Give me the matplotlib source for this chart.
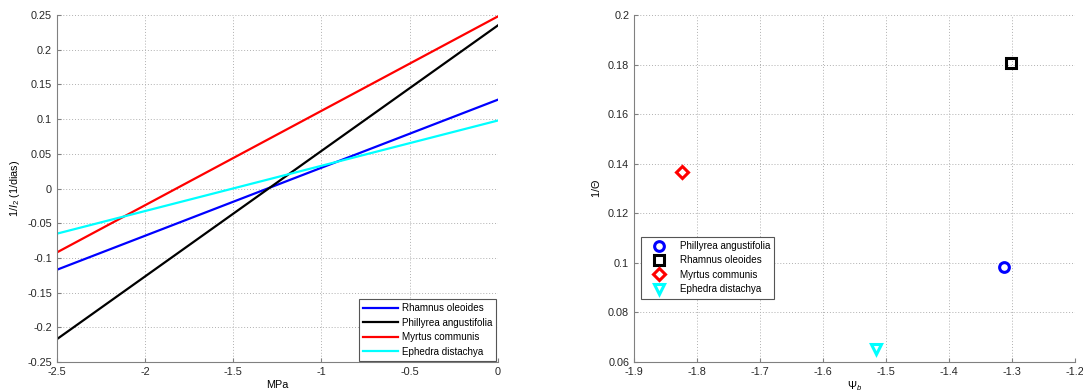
import numpy as np
import matplotlib.pyplot as plt

plt.rcParams['font.family'] = ['Liberation Sans', 'DejaVu Sans']
plt.rcParams['font.size'] = 7.8
plt.rcParams['mathtext.fontset'] = 'custom'
plt.rcParams['mathtext.rm'] = 'Liberation Sans'
plt.rcParams['mathtext.it'] = 'Liberation Sans:italic'

# left panel: straight lines between x = -2.5 and x = 0
x_ends = [-2.5, 0.0]
line_names = ["Rhamnus oleoides", "Phillyrea angustifolia", "Myrtus communis", "Ephedra distachya"]
line_vals = [[-0.117, 0.128], [-0.217, 0.235], [-0.092, 0.248], [-0.065, 0.098]]
line_colors = ["#0000ff", "#000000", "#ff0000", "#00ffff"]

# right panel: one point per species
pt_names = ["Phillyrea angustifolia", "Rhamnus oleoides", "Myrtus communis", "Ephedra distachya"]
pt_x = [-1.312, -1.302, -1.823, -1.516]
pt_y = [0.0983, 0.1808, 0.1365, 0.0652]
pt_markers = ["o", "s", "D", "v"]
pt_colors = ["#0000ff", "#000000", "#ff0000", "#00ffff"]

fig = plt.figure(figsize=(10.83, 3.92), dpi=100)
ax1 = fig.add_axes([0.0526, 0.0765, 0.407, 0.885])
ax2 = fig.add_axes([0.5854, 0.0765, 0.407, 0.885])


def style(ax):
    ax.spines['top'].set_visible(False)
    ax.spines['right'].set_visible(False)
    for s in ['left', 'bottom']:
        ax.spines[s].set_color('#808080')
    ax.tick_params(direction='in', length=3, colors='#808080', labelcolor='#262626')
    ax.grid(True, linestyle=(0, (1, 2)), color='#b0b0b0', linewidth=0.7)
    ax.set_axisbelow(True)


for name, vals, c in zip(line_names, line_vals, line_colors):
    ax1.plot(x_ends, vals, color=c, linewidth=1.6, label=name)
ax1.set_xlim(-2.5, 0)
ax1.set_ylim(-0.25, 0.25)
ax1.set_xticks(np.arange(-2.5, 0.01, 0.5))
ax1.set_xticklabels(["-2.5", "-2", "-1.5", "-1", "-0.5", "0"])
ax1.set_yticks(np.arange(-0.25, 0.26, 0.05))
ax1.set_yticklabels(["-0.25", "-0.2", "-0.15", "-0.1", "-0.05", "0",
                     "0.05", "0.1", "0.15", "0.2", "0.25"])
style(ax1)
ax1.set_xlabel("MPa", labelpad=2)
ax1.set_ylabel("1/$I_2$ (1/dias)", labelpad=4)
leg1 = ax1.legend(loc='lower right', fancybox=False, framealpha=1, fontsize=7.1,
                  edgecolor='#555555', borderaxespad=0.15, handlelength=3.5,
                  handletextpad=0.45, labelspacing=0.45, borderpad=0.4)
leg1.get_frame().set_linewidth(0.8)

for name, x, y, m, c in zip(pt_names, pt_x, pt_y, pt_markers, pt_colors):
    ax2.plot([x], [y], linestyle='none', marker=m, markersize=7 if m != 'D' else 6,
             markerfacecolor='none', markeredgecolor=c, markeredgewidth=2.2, label=name)
ax2.set_xlim(-1.9, -1.2)
ax2.set_ylim(0.06, 0.2)
ax2.set_xticks(np.arange(-1.9, -1.19, 0.1))
ax2.set_xticklabels(["-1.9", "-1.8", "-1.7", "-1.6", "-1.5", "-1.4", "-1.3", "-1.2"])
ax2.set_yticks(np.arange(0.06, 0.201, 0.02))
ax2.set_yticklabels(["0.06", "0.08", "0.1", "0.12", "0.14", "0.16", "0.18", "0.2"])
style(ax2)
ax2.set_xlabel(r"$\Psi_b$", labelpad=2)
ax2.set_ylabel(r"1/$\Theta$", labelpad=4)
leg2 = ax2.legend(loc='center left', bbox_to_anchor=(0.004, 0.272), fancybox=False,
                  framealpha=1, edgecolor='#555555', fontsize=7.1, handlelength=2.8,
                  handletextpad=0.7, labelspacing=0.45, borderpad=0.45)
leg2.get_frame().set_linewidth(0.8)

plt.savefig("out.png", dpi=100)
